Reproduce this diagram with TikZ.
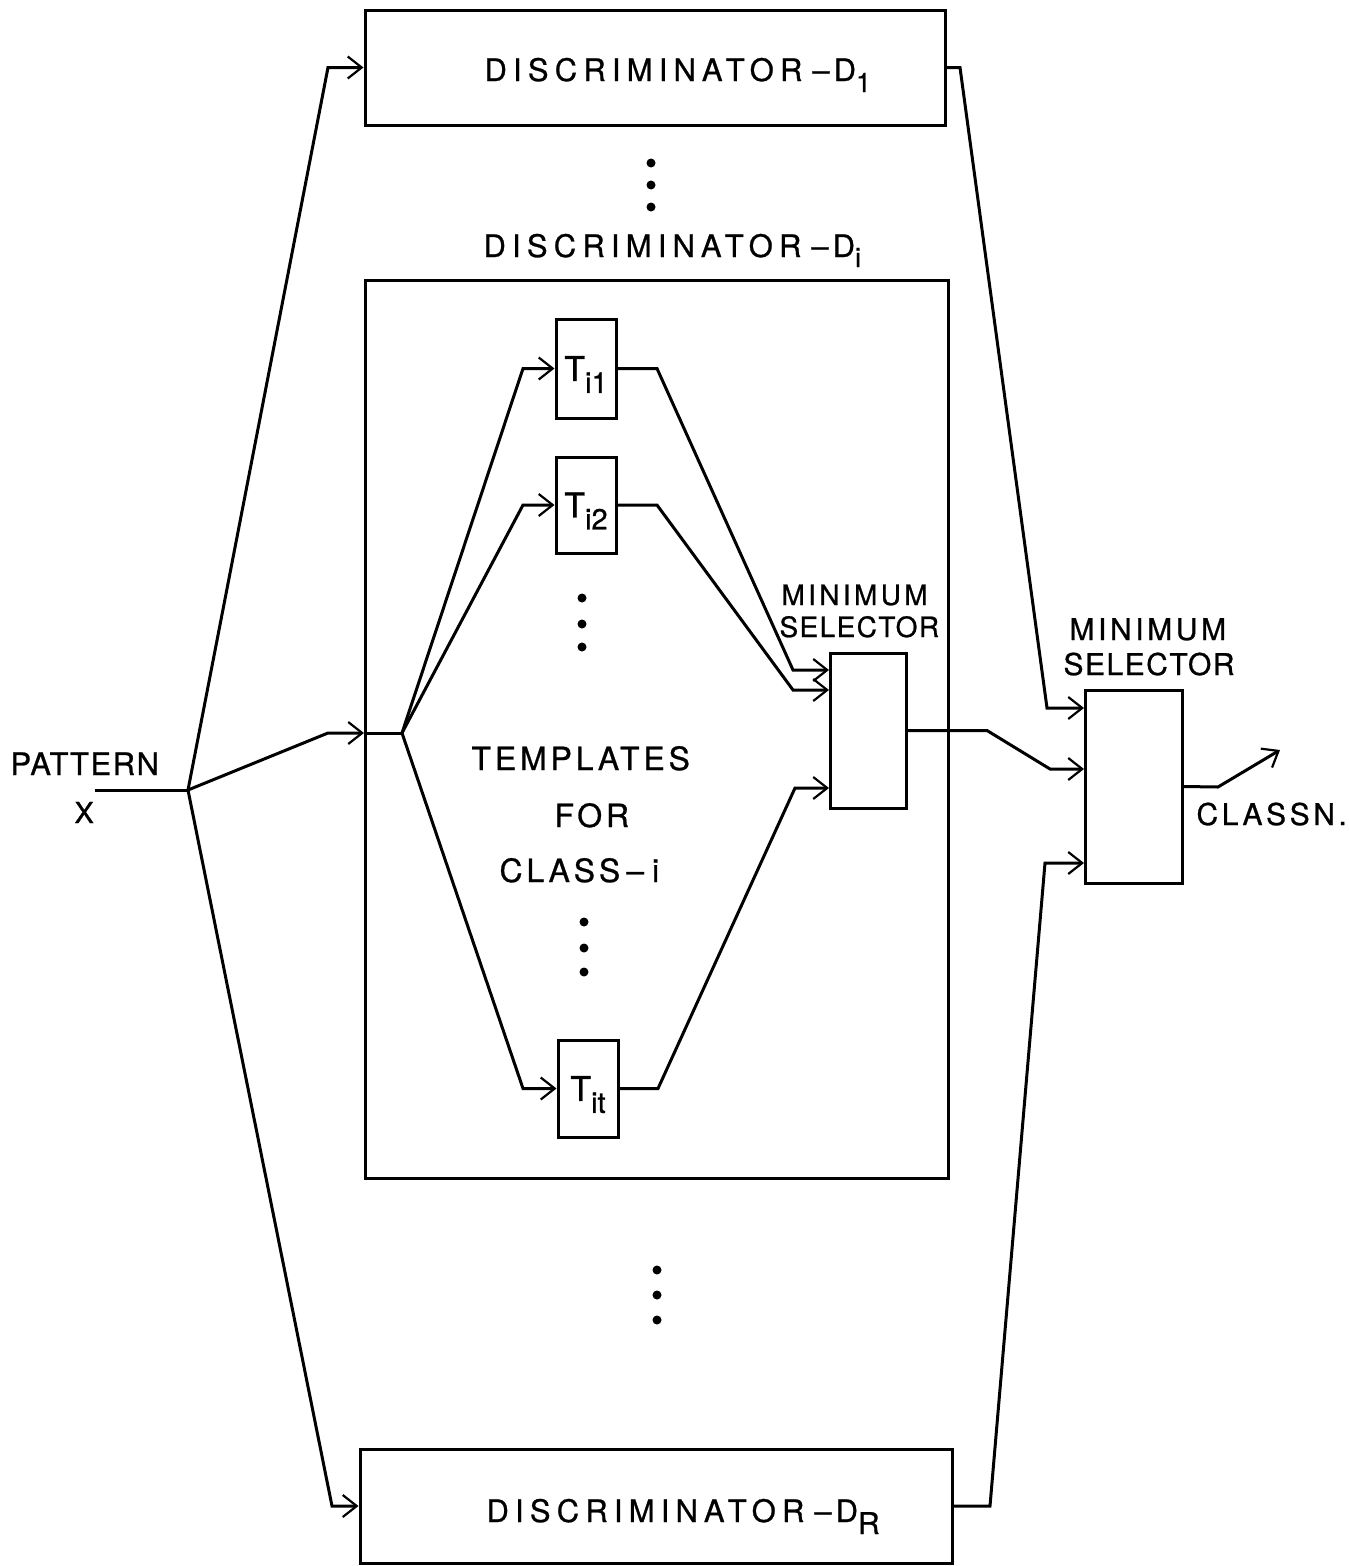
\documentclass[tikz,border=0pt]{standalone}
\usepackage{fontspec}
\setmainfont[FakeBold=0.8]{TeX Gyre Heros}
\newfontfamily\lsA[LetterSpace=20,FakeBold=0.8]{TeX Gyre Heros}
\newfontfamily\lsB[LetterSpace=12,FakeBold=0.8]{TeX Gyre Heros}
\newfontfamily\lsC[LetterSpace=5,FakeBold=0.8]{TeX Gyre Heros}
\usetikzlibrary{arrows.meta}
\newcommand{\lowsub}[3]{\raisebox{#1}[0pt][0pt]{\fontsize{#2}{#2}\selectfont #3}}
\newcommand{\discr}[2]{\fontsize{31}{36}\lsA\selectfont DISCRIMINATOR\kern 10pt–\kern 4pt D#1{#2}}
\begin{document}
\begin{tikzpicture}[x=1pt,y=-1pt,line width=3pt,
  box/.style={draw, rectangle, inner sep=0pt, line width=3pt},
  arr/.style={-{Straight Barb[length=14pt,width=22pt,line width=2.2pt]}},
  dotm/.style={circle, fill, inner sep=0pt, minimum size=9pt},
  lbl/.style={inner sep=0pt, anchor=base west}]
\useasboundingbox (0,0) rectangle (1349,1566);

% boxes
\node[box, minimum width=580pt, minimum height=115pt] (d1) at (655,67.5) {};
\node[box, minimum width=583pt, minimum height=898pt] (di) at (656.5,729) {};
\node[box, minimum width=592pt, minimum height=114pt] (dr) at (656,1506) {};
\node[box, minimum width=60pt, minimum height=99pt] (ti1) at (586,368.5)
  {\fontsize{34}{34}\selectfont T\lowsub{-12pt}{29}{i1}};
\node[box, minimum width=60pt, minimum height=96pt] (ti2) at (586,505)
  {\fontsize{34}{34}\selectfont T\lowsub{-12pt}{29}{i2}};
\node[box, minimum width=60pt, minimum height=97pt] (tit) at (588,1088.5)
  {\fontsize{34}{34}\selectfont T\lowsub{-12pt}{29}{it}};
\node[box, minimum width=76pt, minimum height=155pt] (ms) at (868,730.5) {};
\node[box, minimum width=97pt, minimum height=193pt] (mo) at (1133.5,786.5) {};

% labels
\node[lbl] (d1t) at (483,81) {\discr{\lowsub{-11pt}{27}}{1}};
\node[lbl] (dit) at (482,257) {\discr{\lowsub{-10pt}{27}}{i}};
\node[lbl] (drt) at (485,1522) {\discr{\lowsub{-12pt}{30}}{R}};
\node[lbl] (tpl1) at (470,770) {\fontsize{32}{36}\lsB\selectfont TEMPLATES};
\node[lbl] (tpl2) at (553,827) {\fontsize{32}{36}\lsB\selectfont FOR};
\node[lbl] (tpl3) at (498,882) {\fontsize{32}{36}\lsB\selectfont CLASS\kern 6pt–\kern 8pt i};
\node[lbl] (pat) at (9,775) {\fontsize{31}{36}\lsC\selectfont PATTERN};
\node[lbl] (patx) at (73,823) {\fontsize{29}{36}\selectfont X};
\node[lbl] (cls) at (1195,825) {\fontsize{30}{36}\lsB\selectfont CLASSN.};
\node[lbl] (mo1) at (1068,640) {\fontsize{30}{36}\lsB\selectfont MINIMUM};
\node[lbl] (mo2) at (1062,675) {\fontsize{30}{36}\lsC\selectfont SELECTOR};
\node[lbl] (ms1) at (780,605) {\fontsize{28}{30}\lsB\selectfont MINIMUM};
\node[lbl] (ms2) at (778,637) {\fontsize{28}{30}\lsC\selectfont SELECTOR};

% dots
\foreach \yy [count=\k] in {163,185,207} \node[dotm] (da\k) at (651,\yy) {};
\foreach \yy [count=\k] in {598,624,647} \node[dotm] (db\k) at (582,\yy) {};
\foreach \yy [count=\k] in {922,948,972} \node[dotm] (dc\k) at (584,\yy) {};
\foreach \yy [count=\k] in {1270,1295,1320} \node[dotm] (dd\k) at (657,\yy) {};

% coordinates
\coordinate (pin) at (95,790);
\coordinate (sp) at (188,790);
\coordinate (diin) at (364,733);
\coordinate (fan) at (402,733);
\coordinate (msin1) at (829,670);
\coordinate (msin2) at (829,690);
\coordinate (msin3) at (829,788);
\coordinate (moin1) at (1084,708);
\coordinate (moin2) at (1084,769);
\coordinate (moin3) at (1084,863);
\coordinate (out) at (1280,750);

% connectors
\draw (pin) -- (sp);
\draw[arr] (sp) -- (328,67.5) -- (d1.west);
\draw[arr] (sp) -- (332,1506) -- (dr.west);
\draw[arr] (sp) -- (328,733) -- (diin);
\draw (diin) -- (fan);
\draw[arr] (fan) -- (523,368.5) -- (ti1.west);
\draw[arr] (fan) -- (523,505) -- (ti2.west);
\draw[arr] (fan) -- (523,1088.5) -- (tit.west);
\draw[arr] (ti1.east) -- (657,368.5) -- (793,670) -- (msin1);
\draw[arr] (ti2.east) -- (657,505) -- (793,690) -- (msin2);
\draw[arr] (tit.east) -- (658,1088.5) -- (795,788) -- (msin3);
\draw[arr] (d1.east) -- (960,67.5) -- (1047,708) -- (moin1);
\draw[arr] (ms.east) -- (987,730.5) -- (1050,769) -- (moin2);
\draw[arr] (dr.east) -- (990,1506) -- (1045,863) -- (moin3);
\draw[arr] (mo.east) -- (1218,787) -- (out);
\end{tikzpicture}
\end{document}
